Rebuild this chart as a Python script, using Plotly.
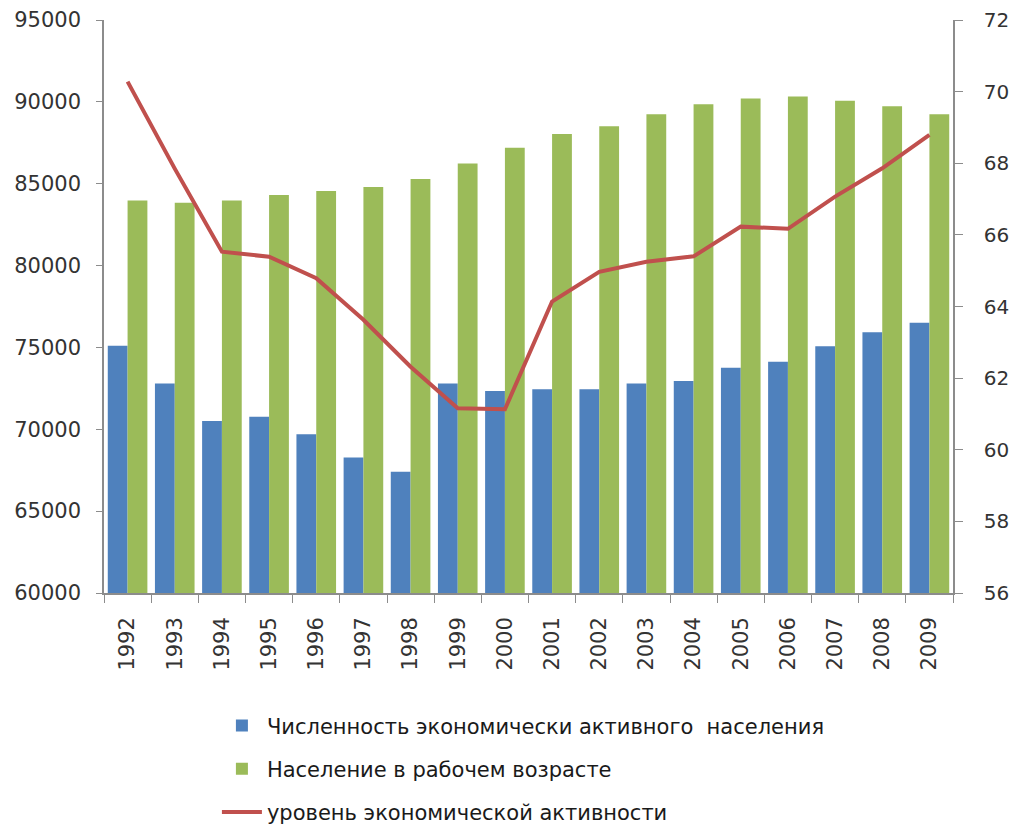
import plotly.graph_objects as go

years = ["1992", "1993", "1994", "1995", "1996", "1997", "1998", "1999", "2000",
         "2001", "2002", "2003", "2004", "2005", "2006", "2007", "2008", "2009"]
active_pop = [75100, 72800, 70500, 70770, 69700, 68270, 67400, 72800, 72340,
              72440, 72440, 72800, 72950, 73760, 74130, 75070, 75930, 76510]
working_age_pop = [83970, 83840, 83970, 84310, 84560, 84800, 85290, 86230, 87200,
                   88040, 88510, 89240, 89850, 90200, 90320, 90070, 89730, 89240]
activity_rate = [70.28, 67.85, 65.53, 65.39, 64.79, 63.63, 62.32, 61.16, 61.13,
                 64.14, 64.97, 65.25, 65.40, 66.23, 66.17, 67.07, 67.86, 68.79]

name_active = "Численность экономически активного  населения"
name_working = "Население в рабочем возрасте"
name_rate = "уровень экономической активности"

FONT = "DejaVu Sans"
TXT = "#333333"
AX = "#8c8c8c"

fig = go.Figure()
fig.add_trace(go.Bar(x=years, y=active_pop, name=name_active,
                     marker=dict(color="#4F81BD", line=dict(width=0)),
                     legendgroup="a"))
fig.add_trace(go.Bar(x=years, y=working_age_pop, name=name_working,
                     marker=dict(color="#9BBB59", line=dict(width=0)),
                     legendgroup="b"))
fig.add_trace(go.Scatter(x=years, y=activity_rate, name=name_rate, mode="lines",
                         line=dict(color="#C0504D", width=4), yaxis="y2",
                         legendgroup="c"))

fig.update_layout(
    width=1010, height=826,
    margin=dict(l=104, r=57, t=20, b=233, autoexpand=False),
    paper_bgcolor="white", plot_bgcolor="white",
    barmode="group", bargap=0.16, bargroupgap=0,
    font=dict(family=FONT, size=20, color=TXT),
    xaxis=dict(type="category", tickangle=-90, showgrid=False, automargin=False,
               showline=True, linecolor=AX, linewidth=1.5,
               ticks="outside", ticklen=8, tickcolor=AX, tickson="boundaries",
               ticklabelstandoff=14,
               tickfont=dict(family=FONT, size=21, color=TXT)),
    yaxis=dict(range=[60000, 95000], dtick=5000, tickformat="d", automargin=False,
               showgrid=False, zeroline=False,
               showline=True, linecolor=AX, linewidth=1.5,
               ticks="outside", ticklen=6, tickcolor=AX,
               ticklabelstandoff=11,
               tickfont=dict(family=FONT, size=21, color=TXT)),
    yaxis2=dict(range=[56, 72], dtick=2, overlaying="y", side="right", automargin=False,
                showgrid=False, zeroline=False,
                showline=True, linecolor=AX, linewidth=1.5,
                ticks="outside", ticklen=8, tickcolor=AX,
                ticklabelstandoff=17,
                tickfont=dict(family=FONT, size=20, color=TXT)),
    legend=dict(orientation="v", x=0.133, xanchor="left", y=-0.196, yanchor="top",
                font=dict(family=FONT, size=21, color="#1a1a1a"),
                tracegroupgap=13, itemwidth=40, bgcolor="rgba(0,0,0,0)"),
    showlegend=True,
)

fig.write_html("out.html", config={"displayModeBar": False},
               post_script="document.body.style.margin='0';document.body.style.overflow='hidden';")
